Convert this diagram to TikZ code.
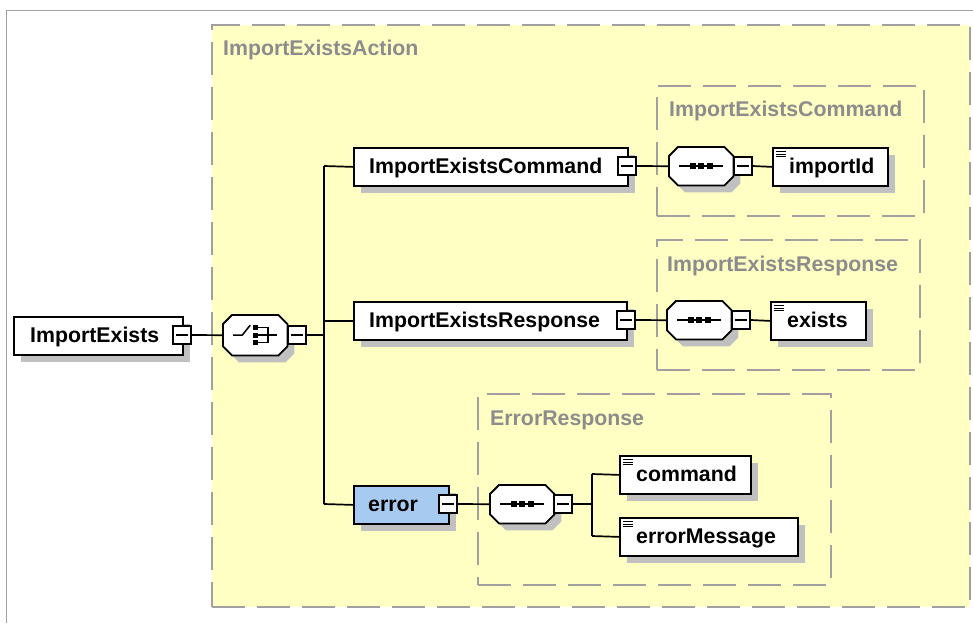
\documentclass[tikz,border=0pt]{standalone}
\usepackage{fontspec}
\setmainfont{Liberation Sans}
\usetikzlibrary{shadows}
\definecolor{yel}{RGB}{255,255,196}
\definecolor{dgray}{RGB}{160,160,160}
\definecolor{lgray}{RGB}{140,140,140}
\definecolor{shd}{RGB}{192,192,192}
\definecolor{errblue}{RGB}{166,202,240}
\newcommand\octpath[1]{([xshift=9pt]#1.north west) -- ([xshift=-9pt]#1.north east) -- ([yshift=-9pt]#1.north east) -- ([yshift=9pt]#1.south east) -- ([xshift=-9pt]#1.south east) -- ([xshift=9pt]#1.south west) -- ([yshift=9pt]#1.south west) -- ([yshift=-9pt]#1.north west) -- cycle}
\newcommand\seqsym[1]{%
  \draw[line width=1.5pt] ([xshift=10pt]#1.west) -- ([xshift=-10pt]#1.east);
  \foreach \d in {-8.5,0,8.5} \fill ([xshift=\d pt]#1.center) +(-2.8pt,-2.8pt) rectangle +(2.8pt,2.8pt);}
\begin{document}
\begin{tikzpicture}[x=1pt,y=-1pt,
  group/.style={draw=dgray, fill=yel, line width=2.2pt, dash pattern=on 33pt off 12pt, anchor=north west, inner sep=0pt},
  glabel/.style={text=lgray, font=\fontsize{21.3}{25}\selectfont\bfseries, anchor=base west, inner sep=0pt},
  txt/.style={text=black, font=\fontsize{21.3}{25}\selectfont\bfseries, anchor=base west, inner sep=0pt},
  elem/.style={draw=black, fill=white, line width=1.8pt, anchor=north west, inner sep=0pt,
    drop shadow={shadow xshift=7pt, shadow yshift=-7pt, fill=shd, opacity=1}},
  simple/.style={path picture={
    \draw[line width=1pt] ([xshift=3pt,yshift=-3.5pt]path picture bounding box.north west) -- ++(10pt,0pt)
      ([xshift=3pt,yshift=-6.2pt]path picture bounding box.north west) -- ++(10pt,0pt)
      ([xshift=3pt,yshift=-8.9pt]path picture bounding box.north west) -- ++(10pt,0pt);}},
  minus/.style={draw=black, fill=white, line width=1.5pt, minimum width=18pt, minimum height=18pt, inner sep=0pt,
    path picture={\draw[line width=1.5pt] ([xshift=3pt]path picture bounding box.west) -- ([xshift=-3pt]path picture bounding box.east);}},
  octbox/.style={anchor=north west, inner sep=0pt},
  conn/.style={line width=1.7pt, draw=black}
]
\useasboundingbox (0,0) rectangle (973,623);
% outer frame
\draw[dgray, line width=1.8pt] (6.5,623) -- (6.5,10.5) -- (973,10.5);

% groups
\node[group, minimum width=758pt, minimum height=582pt] (g0) at (211,24) {};
\node[glabel] (lg0) at (223,56) {ImportExistsAction};
\node[group, minimum width=267pt, minimum height=130pt] (g1) at (656,85) {};
\node[glabel] (lg1) at (669,117) {ImportExistsCommand};
\node[group, minimum width=263pt, minimum height=130pt] (g2) at (656,239) {};
\node[glabel] (lg2) at (667,271) {ImportExistsResponse};
\node[group, minimum width=353pt, minimum height=191pt] (g3) at (477,393) {};
\node[glabel] (lg3) at (490,425) {ErrorResponse};

% root element
\node[elem, minimum width=169pt, minimum height=38pt] (ie) at (13,316) {};
\node[txt] (tie) at (30,342) {ImportExists};
\node[minus] (mie) at (182,335) {};

% choice
\node[octbox, minimum width=64pt, minimum height=40pt] (ch) at (223,315) {};
\fill[shd, transform canvas={xshift=7pt,yshift=-7pt}] \octpath{ch};
\draw[fill=white, line width=1.8pt] \octpath{ch};
\draw[line width=1.5pt] ([xshift=-22pt]ch.center) -- ([xshift=-13pt]ch.center) -- ([xshift=-5pt,yshift=10pt]ch.center);
\foreach \d in {-7.5,0,7.5} \fill ([yshift=\d pt]ch.center) +(-2.5pt,-2.5pt) rectangle +(2.5pt,2.5pt);
\draw[line width=1.5pt] ([xshift=3pt,yshift=7.5pt]ch.center) -- ([xshift=13pt,yshift=7.5pt]ch.center) -- ([xshift=13pt,yshift=-7.5pt]ch.center) -- ([xshift=3pt,yshift=-7.5pt]ch.center);
\draw[line width=1.5pt] ([xshift=3pt]ch.center) -- ([xshift=22pt]ch.center);
\node[minus] (mch) at (297,335) {};

% children
\node[elem, minimum width=274pt, minimum height=38pt] (c1) at (353,147) {};
\node[txt] (tc1) at (369,173.5) {ImportExistsCommand};
\node[minus] (mc1) at (627,166) {};

\node[elem, minimum width=273pt, minimum height=38pt] (c2) at (353,301) {};
\node[txt] (tc2) at (369,327.5) {ImportExistsResponse};
\node[minus] (mc2) at (626,320) {};

\node[elem, fill=errblue, minimum width=95pt, minimum height=38pt] (c3) at (353,485) {};
\node[txt] (tc3) at (368,511.5) {error};
\node[minus] (mc3) at (448,504) {};

% sequence 1
\node[octbox, minimum width=64pt, minimum height=38pt] (sq1) at (669,147) {};
\fill[shd, transform canvas={xshift=7pt,yshift=-7pt}] \octpath{sq1};
\draw[fill=white, line width=1.8pt] \octpath{sq1};
\seqsym{sq1}
\node[minus] (ms1) at (743,166) {};
\node[elem, simple, minimum width=115pt, minimum height=38pt] (e1) at (772,147) {};
\node[txt] (te1) at (789,173.5) {importId};

% sequence 2
\node[octbox, minimum width=64pt, minimum height=38pt] (sq2) at (667,301) {};
\fill[shd, transform canvas={xshift=7pt,yshift=-7pt}] \octpath{sq2};
\draw[fill=white, line width=1.8pt] \octpath{sq2};
\seqsym{sq2}
\node[minus] (ms2) at (741,320) {};
\node[elem, simple, minimum width=95pt, minimum height=38pt] (e2) at (770,301) {};
\node[txt] (te2) at (787,327.5) {exists};

% sequence 3
\node[octbox, minimum width=64pt, minimum height=38pt] (sq3) at (490,485) {};
\fill[shd, transform canvas={xshift=7pt,yshift=-7pt}] \octpath{sq3};
\draw[fill=white, line width=1.8pt] \octpath{sq3};
\seqsym{sq3}
\node[minus] (ms3) at (563,504) {};
\node[elem, simple, minimum width=131pt, minimum height=38pt] (e3) at (619,455) {};
\node[txt] (te3) at (636,481.5) {command};
\node[elem, simple, minimum width=178pt, minimum height=38pt] (e4) at (619,517) {};
\node[txt] (te4) at (636,543.5) {errorMessage};

% connectors
\coordinate (trtop) at (324,166);
\coordinate (trbot) at (324,504);
\coordinate (br1) at (592,474);
\coordinate (br2) at (592,536);
\draw[conn] (mie.east) -- (ch.west);
\draw[conn] (mch.east) -- (mch.east -| trtop);
\draw[conn] (trtop) -- (trbot);
\draw[conn] (trtop) -- (c1.west);
\draw[conn] (trtop |- c2.west) -- (c2.west);
\draw[conn] (trbot) -- (c3.west);
\draw[conn] (mc1.east) -- (sq1.west);
\draw[conn] (ms1.east) -- (e1.west);
\draw[conn] (mc2.east) -- (sq2.west);
\draw[conn] (ms2.east) -- (e2.west);
\draw[conn] (mc3.east) -- (sq3.west);
\draw[conn] (ms3.east) -- (ms3.east -| br1);
\draw[conn] (br1) -- (br2);
\draw[conn] (br1) -- (e3.west);
\draw[conn] (br2) -- (e4.west);
\end{tikzpicture}
\end{document}
